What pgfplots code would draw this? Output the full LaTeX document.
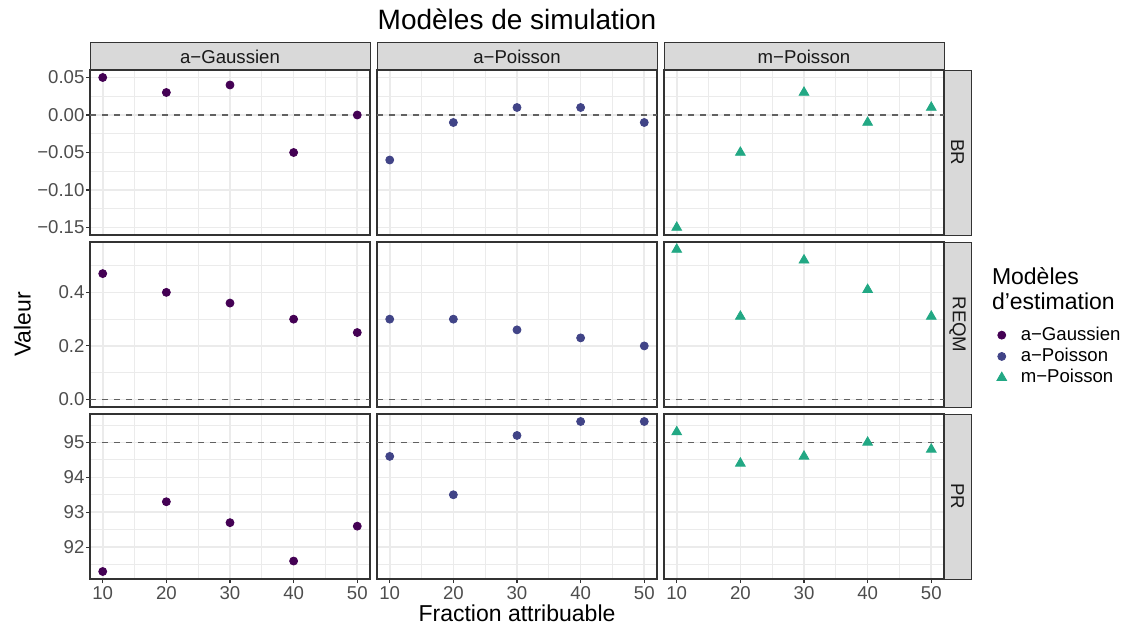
\documentclass[border=0pt]{standalone}
\usepackage{fontspec}
\setmainfont{Liberation Sans}
\usepackage{pgfplots}
\pgfplotsset{compat=1.18}

\definecolor{cAG}{HTML}{440154}
\definecolor{cAP}{HTML}{414487}
\definecolor{cMP}{HTML}{22A884}
\definecolor{gridc}{HTML}{EBEBEB}
\definecolor{borderc}{HTML}{333333}
\definecolor{stripc}{HTML}{D9D9D9}
\definecolor{tickc}{HTML}{4D4D4D}

\pgfplotsset{
  panel/.style={
    scale only axis, width=140pt, height=82.5pt, anchor=north west,
    xmin=8, xmax=52, xtick={10,20,30,40,50}, minor xtick={15,25,35,45},
    xticklabels={10,20,30,40,50},
    grid=both,
    major grid style={color=gridc, line width=0.8pt},
    minor grid style={color=gridc, line width=0.45pt},
    axis line style={color=borderc, line width=0.55pt},
    tick style={color=borderc, line width=0.55pt},
    tick align=outside, tick pos=left,
    major tick length=2pt, minor tick length=0pt,
    ticklabel style={font=\fontsize{9.3}{10}\selectfont, text=tickc},
    xticklabel style={inner sep=0.3pt, yshift=-1.4pt},
    yticklabel style={inner sep=0.6pt},
    /pgf/number format/assume math mode=true,
  },
  noxlab/.style={xticklabels={}, xtick style={draw=none}},
  noylab/.style={yticklabels={}, ytick style={draw=none}},
  rowBR/.style={ymin=-0.16, ymax=0.06,
    ytick={-0.15,-0.1,-0.05,0,0.05}, minor ytick={-0.125,-0.075,-0.025,0.025},
    yticklabels={−0.15,−0.10,−0.05,0.00,0.05}},
  rowRE/.style={ymin=-0.028, ymax=0.588,
    ytick={0,0.2,0.4}, minor ytick={0.1,0.3,0.5},
    yticklabels={0.0,0.2,0.4}},
  rowPR/.style={ymin=91.085, ymax=95.815,
    ytick={92,93,94,95}, minor ytick={91.5,92.5,93.5,94.5,95.5},
    yticklabels={92,93,94,95}},
  refline/.style={color=black!62, line width=0.55pt, dash pattern=on 3pt off 3pt, forget plot},
  sAG/.style={only marks, mark=*, mark size=2pt, color=cAG},
  sAP/.style={only marks, mark=*, mark size=2pt, color=cAP},
  sMP/.style={only marks, mark=triangle*, mark size=2.8pt, color=cMP},
}

\tikzset{
  strip/.style={draw=borderc, fill=stripc, line width=0.55pt, inner sep=0pt},
  striptext/.style={font=\fontsize{9.3}{10}\selectfont, text=black!90},
}

\begin{document}
\begin{tikzpicture}
\path[use as bounding box] (0,0) rectangle (562.5pt,-313pt);

% ---- row 1 : BR ----
\begin{axis}[panel, rowBR, noxlab, name=a11, at={(45pt,-35pt)}]
  \addplot[refline] coordinates {(8,0) (52,0)};
  \addplot[sAG] coordinates {(10,0.05) (20,0.03) (30,0.04) (40,-0.05) (50,0)};
\end{axis}
\begin{axis}[panel, rowBR, noxlab, noylab, name=a12, at={(188.5pt,-35pt)}]
  \addplot[refline] coordinates {(8,0) (52,0)};
  \addplot[sAP] coordinates {(10,-0.06) (20,-0.01) (30,0.01) (40,0.01) (50,-0.01)};
\end{axis}
\begin{axis}[panel, rowBR, noxlab, noylab, name=a13, at={(332pt,-35pt)}]
  \addplot[refline] coordinates {(8,0) (52,0)};
  \addplot[sMP] coordinates {(10,-0.15) (20,-0.05) (30,0.03) (40,-0.01) (50,0.01)};
\end{axis}

% ---- row 2 : REQM ----
\begin{axis}[panel, rowRE, noxlab, name=a21, at={(45pt,-121pt)}]
  \addplot[refline] coordinates {(8,0) (52,0)};
  \addplot[sAG] coordinates {(10,0.47) (20,0.40) (30,0.36) (40,0.30) (50,0.25)};
\end{axis}
\begin{axis}[panel, rowRE, noxlab, noylab, name=a22, at={(188.5pt,-121pt)}]
  \addplot[refline] coordinates {(8,0) (52,0)};
  \addplot[sAP] coordinates {(10,0.30) (20,0.30) (30,0.26) (40,0.23) (50,0.20)};
\end{axis}
\begin{axis}[panel, rowRE, noxlab, noylab, name=a23, at={(332pt,-121pt)},
  legend style={at={(1.182,0.512)}, anchor=north west, draw=none, fill=none,
    font=\fontsize{9.3}{10}\selectfont, row sep=-1.6pt, inner sep=0pt},
  legend image code/.code={\path (-3pt,0pt) (7.3pt,0pt);
    \draw[#1] plot coordinates {(0pt,0pt)};},
  legend cell align=left]
  \addlegendimage{sAG}\addlegendentry{a−Gaussien}
  \addlegendimage{sAP}\addlegendentry{a−Poisson}
  \addlegendimage{sMP}\addlegendentry{m−Poisson}
  \addplot[refline] coordinates {(8,0) (52,0)};
  \addplot[sMP, forget plot] coordinates {(10,0.56) (20,0.31) (30,0.52) (40,0.41) (50,0.31)};
\end{axis}

% ---- row 3 : PR ----
\begin{axis}[panel, rowPR, name=a31, at={(45pt,-207pt)}]
  \addplot[refline] coordinates {(8,95) (52,95)};
  \addplot[sAG] coordinates {(10,91.3) (20,93.3) (30,92.7) (40,91.6) (50,92.6)};
\end{axis}
\begin{axis}[panel, rowPR, noylab, name=a32, at={(188.5pt,-207pt)}]
  \addplot[refline] coordinates {(8,95) (52,95)};
  \addplot[sAP] coordinates {(10,94.6) (20,93.5) (30,95.2) (40,95.6) (50,95.6)};
\end{axis}
\begin{axis}[panel, rowPR, noylab, name=a33, at={(332pt,-207pt)}]
  \addplot[refline] coordinates {(8,95) (52,95)};
  \addplot[sMP] coordinates {(10,95.3) (20,94.4) (30,94.6) (40,95.0) (50,94.8)};
\end{axis}

% ---- strips ----
\node[strip, anchor=south west, minimum width=140pt, minimum height=13.5pt] at (a11.north west) {};
\node[striptext] at ([yshift=6.75pt]a11.north) {a−Gaussien};
\node[strip, anchor=south west, minimum width=140pt, minimum height=13.5pt] at (a12.north west) {};
\node[striptext] at ([yshift=6.75pt]a12.north) {a−Poisson};
\node[strip, anchor=south west, minimum width=140pt, minimum height=13.5pt] at (a13.north west) {};
\node[striptext] at ([yshift=6.75pt]a13.north) {m−Poisson};

\node[strip, anchor=north west, minimum width=13.5pt, minimum height=82.5pt] at (a13.north east) {};
\node[striptext, rotate=-90] at ([xshift=6.75pt]a13.east) {BR};
\node[strip, anchor=north west, minimum width=13.5pt, minimum height=82.5pt] at (a23.north east) {};
\node[striptext, rotate=-90] at ([xshift=6.75pt]a23.east) {REQM};
\node[strip, anchor=north west, minimum width=13.5pt, minimum height=82.5pt] at (a33.north east) {};
\node[striptext, rotate=-90] at ([xshift=6.75pt]a33.east) {PR};

% ---- titles ----
\node[anchor=base, font=\fontsize{14}{16}\selectfont] at (258.5pt,-14.8pt) {Modèles de simulation};
\node[anchor=base, inner sep=0pt, font=\fontsize{11.5}{13}\selectfont] at (258.5pt,-310.8pt) {Fraction attribuable};
\node[anchor=base, rotate=90, font=\fontsize{11.5}{13}\selectfont] at (15.3pt,-162.25pt) {Valeur};
\node[anchor=base west, inner sep=0pt, font=\fontsize{11.5}{13}\selectfont] at (495.8pt,-142.5pt) {Modèles};
\node[anchor=base west, inner sep=0pt, font=\fontsize{11.5}{13}\selectfont] at (495.8pt,-154.6pt) {d’estimation};
\end{tikzpicture}
\end{document}
